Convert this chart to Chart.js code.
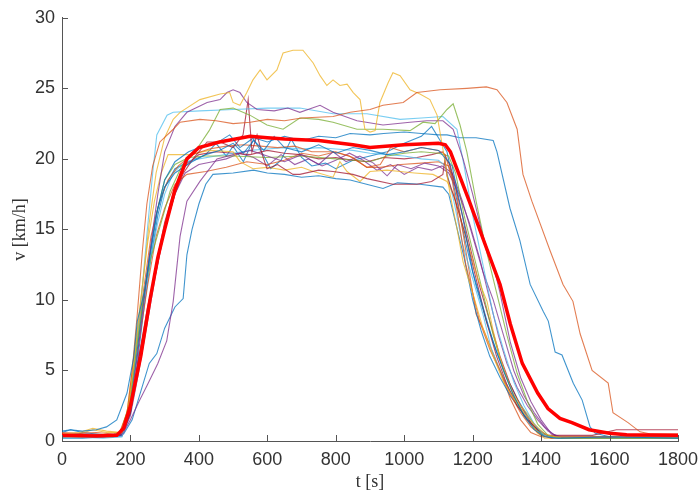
<!DOCTYPE html>
<html>
<head>
<meta charset="utf-8">
<script src="https://cdn.jsdelivr.net/npm/chart.js@4"></script>
<style>
  html, body { margin: 0; padding: 0; background: #fff; }
  #wrap { width: 700px; height: 493px; }
</style>
</head>
<body>
<div id="wrap"><canvas id="chart" width="700" height="493"></canvas></div>
<script>
// t [s], v [km/h] for each ride
const run01 = [[0,0.7],[25,0.8],[60,0.7],[100,0.8],[130,1.0],[160,1.5],[190,3.4],[210,6],[220,8.5],[240,10.5],[260,13.5],[280,16.5],[300,18],[330,19],[380,19.8],[420,20.3],[460,20.6],[500,21.1],[530,20.4],[560,21.3],[590,20.6],[620,21.6],[650,20.8],[700,20.5],[750,21],[800,20.4],[850,20.8],[900,20.6],[950,20.3],[1000,20.5],[1050,20.8],[1100,20.6],[1140,19.5],[1170,16],[1200,12],[1230,9.5],[1260,7],[1290,5],[1320,3.2],[1350,1.8],[1380,0.8],[1410,0.3],[1450,0.2],[1600,0.3],[1800,0.2]];
const run02 = [[0,0.3],[60,0.3],[120,0.35],[165,0.4],[190,2],[205,5],[220,9],[235,13.5],[248,16.8],[265,19.5],[286,21.2],[325,22.1],[345,22.6],[403,22.8],[450,22.7],[500,22.5],[550,22.6],[600,22.8],[650,22.7],[700,22.9],[792,23.0],[842,23.3],[900,23.5],[938,23.8],[997,24],[1037,24.7],[1105,24.9],[1183,25.0],[1240,25.1],[1271,24.9],[1300,24],[1330,22.1],[1347,18.9],[1373,17],[1426,13.5],[1464,11.1],[1493,9.9],[1514,7.6],[1549,5.0],[1596,4.1],[1610,2.0],[1654,1.3],[1689,0.65],[1720,0.5],[1800,0.5]];
const run03 = [[0,0.5],[50,0.6],[90,0.9],[130,0.7],[175,0.6],[195,2.5],[215,6.5],[235,11],[255,15.5],[275,19],[300,21.5],[325,22.8],[345,23.3],[403,24.2],[462,24.6],[490,24.7],[500,24.0],[520,23.8],[540,24.7],[558,25.6],[579,26.3],[599,25.6],[628,26.3],[646,27.5],[675,27.7],[704,27.7],[734,26.8],[754,25.9],[774,25.2],[792,25.6],[812,25.2],[833,25.3],[851,24.7],[871,24.2],[885,22.1],[900,21.9],[915,22],[929,24],[953,25.4],[967,26.1],[988,25.9],[1017,24.9],[1046,24.6],[1075,24.2],[1096,23.1],[1113,20.7],[1134,17.5],[1154,15.1],[1172,12.7],[1200,10.5],[1230,8],[1260,6],[1290,4.2],[1320,3],[1350,2],[1380,1.2],[1410,0.5],[1440,0.3],[1800,0.3]];
const run04 = [[0,0.4],[60,0.35],[120,0.4],[175,0.5],[200,2.5],[220,6],[240,10],[260,14],[280,17.5],[300,20.5],[330,22.3],[365,23.3],[424,24],[462,24.2],[482,24.7],[500,24.9],[520,24.7],[540,24],[570,23.5],[620,23.4],[660,23.6],[695,23.3],[754,23.8],[792,23.3],[862,22.7],[938,22.4],[1017,22.6],[1066,22.7],[1113,22.7],[1143,22.1],[1172,20],[1200,17.5],[1230,14.5],[1260,12.5],[1280,10.5],[1310,7],[1340,4.5],[1370,2.8],[1400,1.5],[1430,0.5],[1460,0.3],[1800,0.3]];
const run05 = [[0,0.3],[80,0.3],[150,0.3],[180,0.8],[200,3],[220,7],[240,10.5],[260,13],[290,15.5],[316,17.7],[350,19.5],[394,20.7],[430,22],[462,23.5],[500,23.6],[549,23.1],[599,22.4],[646,22.1],[695,22.9],[750,22.8],[792,22.6],[862,22.1],[938,22.1],[1017,22.0],[1055,22.6],[1090,22.5],[1125,23.5],[1143,23.9],[1163,22.4],[1183,20.5],[1210,17],[1240,13.5],[1270,10.5],[1300,7.5],[1330,4.8],[1360,2.8],[1390,1.2],[1420,0.4],[1460,0.2],[1800,0.2]];
const run06 = [[0,0.2],[60,0.25],[120,0.2],[175,0.3],[195,2],[215,6],[235,11],[248,14.6],[265,19],[277,21.7],[307,23.1],[325,23.3],[403,23.4],[500,23.5],[600,23.6],[695,23.6],[792,23.2],[891,23.2],[988,22.8],[1050,22.9],[1113,23.0],[1154,22.1],[1175,19.5],[1200,16],[1230,12.5],[1260,9],[1290,6.5],[1320,4.2],[1350,2.5],[1380,1.2],[1410,0.4],[1440,0.2],[1800,0.2]];
const run07 = [[0,0.5],[60,0.5],[120,0.45],[175,0.5],[200,2],[225,6],[250,9.5],[275,12],[300,15],[330,17.5],[355,19],[383,20],[424,21.2],[462,21.2],[500,20.8],[529,21.7],[544,24.2],[555,20.5],[570,21.7],[585,20.3],[599,19.3],[630,19.6],[675,18.9],[695,18.9],[750,19.2],[792,19.1],[850,18.9],[891,18.6],[967,18.2],[1037,18.2],[1080,18.4],[1113,18.9],[1119,20],[1125,18.8],[1150,17],[1180,14.5],[1210,11.5],[1240,8.5],[1270,6],[1300,4],[1330,2.5],[1360,1.5],[1390,0.8],[1420,0.4],[1550,0.4],[1620,0.8],[1800,0.8]];
const run08 = [[0,0.2],[60,0.2],[120,0.3],[170,0.4],[195,2],[215,5.5],[235,9.5],[255,13],[275,16],[300,18.5],[330,19.8],[370,20.5],[410,20.9],[450,21.1],[490,21.7],[520,20.8],[560,21.5],[600,21.2],[650,21.6],[700,21.3],[750,21.6],[800,21.5],[842,21.8],[900,21.7],[940,21.8],[1000,21.9],[1050,21.8],[1100,21.7],[1125,21.7],[1163,21.5],[1210,21.5],[1260,21.3],[1271,20.5],[1309,16.5],[1338,14.2],[1368,11.1],[1406,9.2],[1421,8.5],[1441,6.3],[1461,6.1],[1494,4.1],[1520,2.9],[1543,1.0],[1558,0.55],[1600,0.3],[1800,0.3]];
const run09 = [[0,0.6],[50,0.55],[100,0.6],[150,0.5],[180,0.7],[200,2.8],[220,7.5],[240,11],[260,14.5],[285,17],[310,18.5],[340,19.5],[380,20.3],[430,20.7],[480,20.9],[530,21.0],[580,20.9],[630,20.8],[680,20.9],[730,20.5],[792,20.5],[840,20.2],[891,19.4],[930,19.6],[960,20.8],[1000,20.5],[1050,20.8],[1100,20.6],[1120,20.3],[1140,18.5],[1160,15.5],[1180,12.5],[1200,10.5],[1220,8.5],[1250,6.5],[1280,5],[1310,3.3],[1340,2],[1370,1],[1400,0.4],[1430,0.2],[1800,0.2]];
const run10 = [[0,0.4],[50,0.5],[90,0.8],[130,0.6],[170,0.6],[190,2],[210,6],[230,10],[250,14],[270,17],[290,19],[310,20.3],[374,20.3],[430,20.6],[500,20.5],[520,19.8],[558,19.3],[600,19.4],[650,19.2],[700,19.4],[734,19.1],[792,18.7],[812,19.8],[833,19.1],[871,18.4],[900,19.1],[950,19.2],[988,19.1],[1030,19.0],[1084,18.9],[1125,18.4],[1143,17.5],[1170,15.3],[1192,13.5],[1215,11.5],[1242,9.9],[1260,7.8],[1280,5.9],[1300,4.5],[1318,3.4],[1340,2.5],[1368,1.7],[1388,0.6],[1410,0.2],[1800,0.2]];
const run11 = [[0,0.3],[60,0.35],[120,0.3],[175,0.4],[200,1.5],[225,2.8],[250,4],[280,5.5],[306,7.1],[325,9.9],[345,14.5],[365,17],[403,18.4],[453,20],[500,20.3],[550,20.6],[600,20.2],[650,19.8],[700,20.3],[750,19.6],[792,20.5],[830,19.8],[870,20.2],[910,19.7],[950,18.8],[980,19.6],[1020,19.3],[1060,19.7],[1100,19.5],[1130,19],[1160,17.5],[1190,15.5],[1220,13],[1250,10],[1275,7.5],[1300,5.5],[1330,3.8],[1360,2.5],[1390,1.5],[1420,0.7],[1450,0.3],[1800,0.3]];
const run12 = [[0,0.4],[60,0.4],[120,0.35],[170,0.5],[195,2.5],[215,6],[235,9.5],[255,13],[275,16],[300,18.5],[330,19.6],[370,20.1],[420,20.2],[500,20.2],[600,20.1],[700,20.2],[800,20.0],[850,19.9],[900,19.8],[950,20.2],[1000,20.4],[1050,20.5],[1100,20.4],[1130,20.2],[1150,19],[1175,16],[1200,13.5],[1230,10.5],[1260,7.5],[1290,5],[1320,3.2],[1350,1.8],[1380,0.9],[1410,0.4],[1440,0.2],[1800,0.2]];
const run13 = [[0,0.3],[60,0.3],[120,0.25],[175,0.3],[200,2.5],[220,6.5],[240,10],[260,13],[280,15.5],[300,17.5],[325,19],[360,19.8],[400,20.0],[450,20.2],[500,20.4],[550,20.6],[600,20.7],[650,20.8],[700,20.7],[750,20.8],[800,20.7],[850,20.6],[900,20.4],[950,20.3],[1000,20.2],[1050,20.0],[1100,19.9],[1120,19.5],[1145,17],[1170,14],[1200,11.5],[1230,9],[1255,6.5],[1280,5],[1310,3.5],[1340,2.3],[1370,1.2],[1400,0.5],[1430,0.2],[1800,0.2]];
const run14 = [[0,0.3],[60,0.35],[120,0.3],[175,0.4],[200,2],[225,6],[250,9],[275,12.5],[300,15.5],[330,18],[360,19.5],[400,20.3],[450,20.5],[500,20.4],[550,20.3],[600,20.6],[650,20.4],[695,20.3],[750,20.0],[800,20.1],[850,19.9],[891,19.8],[940,20.1],[1000,20],[1037,20.1],[1080,20.3],[1113,20.5],[1135,19.5],[1160,17],[1190,14],[1220,11],[1250,8.5],[1280,6],[1310,4],[1340,2.5],[1370,1.3],[1400,0.5],[1430,0.3],[1800,0.3]];
const run15 = [[0,0.6],[25,0.8],[60,0.6],[100,0.5],[150,0.4],[180,0.5],[205,1.5],[230,3.5],[255,5.5],[277,6.2],[300,8],[330,9.5],[354,10.1],[365,13.2],[380,15],[400,16.8],[420,18.2],[441,18.9],[500,19.0],[560,19.2],[600,19.0],[650,18.9],[700,18.7],[750,18.8],[800,18.6],[842,18.5],[890,18.2],[938,17.9],[980,18.3],[1046,18.2],[1113,18.0],[1130,17.5],[1150,15.5],[1175,13.0],[1200,10.0],[1225,7.8],[1250,6.0],[1280,4.5],[1310,3.2],[1340,2.2],[1370,1.3],[1400,0.6],[1430,0.2],[1800,0.2]];
const run16 = [[0,0.35],[60,0.3],[120,0.35],[175,0.4],[200,2.5],[225,7],[250,11],[275,14.5],[300,16.5],[330,18.2],[365,18.9],[420,19.1],[480,19.4],[540,19.8],[600,19.6],[650,19.9],[700,20.4],[750,20.2],[800,20.5],[850,20.1],[891,19.4],[930,19.4],[990,19.6],[1050,19.7],[1100,19.8],[1130,19.5],[1150,18],[1170,15],[1190,12],[1210,9],[1230,8],[1255,6.5],[1280,5],[1310,3],[1340,1.5],[1370,0.6],[1400,0.3],[1800,0.35]];
const run17 = [[0,0.35],[60,0.4],[120,0.35],[175,0.4],[200,2],[220,5.5],[240,9.5],[260,13],[280,16],[300,18],[330,19.3],[370,19.8],[420,20.3],[450,21.1],[480,20.2],[500,20.9],[530,19.8],[560,21.4],[590,20.2],[610,19.3],[640,19.9],[670,21.4],[700,20.1],[730,19.5],[770,19.7],[800,19.3],[850,19.9],[900,20.2],[950,20.5],[1000,21.1],[1050,21.6],[1080,22.3],[1100,21.5],[1125,20.5],[1150,17.5],[1180,14],[1210,11],[1240,8.5],[1270,6.3],[1300,4.5],[1330,3],[1360,1.8],[1390,0.9],[1420,0.3],[1800,0.2]];
const run18 = [[0,0.3],[60,0.3],[120,0.3],[175,0.35],[200,1.8],[225,5],[250,8.5],[275,12],[300,15],[330,17.5],[360,19],[400,19.6],[440,19.8],[480,20.0],[520,20.4],[560,20.1],[600,19.5],[640,20.3],[680,19.6],[720,20.0],[760,19.5],[800,19.9],[840,20.4],[880,19.9],[920,19.2],[960,19.6],[1000,18.9],[1040,19.4],[1080,19.2],[1110,19.5],[1140,19.0],[1170,17],[1200,14.5],[1230,12],[1260,10],[1290,7.5],[1320,5],[1350,3.2],[1380,2],[1410,1.0],[1440,0.4],[1470,0.2],[1800,0.25]];
const meanRun = [[0,0.4],[100,0.35],[160,0.4],[180,0.9],[200,2.5],[230,6],[257,10],[280,13],[300,15],[330,17.8],[365,20],[400,20.8],[460,21.2],[550,21.6],[600,21.5],[650,21.4],[750,21.3],[850,21.0],[900,20.8],[1000,21.0],[1100,21.1],[1120,21.0],[1135,20.5],[1190,17],[1240,13.7],[1280,11.1],[1310,8.3],[1345,5.5],[1390,3.4],[1420,2.3],[1455,1.6],[1490,1.3],[1540,0.8],[1600,0.55],[1650,0.45],[1800,0.4]];

const runs = [run01, run02, run03, run04, run05, run06, run07, run08, run09,
  run10, run11, run12, run13, run14, run15, run16, run17, run18];

const xTicks = [0, 200, 400, 600, 800, 1000, 1200, 1400, 1600, 1800];
const yTicks = [0, 5, 10, 15, 20, 25, 30];

const palette = [
  "rgba(0,114,189,0.75)", "rgba(217,83,25,0.75)", "rgba(237,177,32,0.75)",
  "rgba(126,47,142,0.75)", "rgba(119,172,48,0.75)", "rgba(77,190,238,0.75)",
  "rgba(162,20,47,0.75)", "rgba(0,114,189,0.75)", "rgba(217,83,25,0.75)",
  "rgba(237,177,32,0.75)", "rgba(126,47,142,0.75)", "rgba(119,172,48,0.75)",
  "rgba(77,190,238,0.75)", "rgba(162,20,47,0.75)", "rgba(0,114,189,0.75)",
  "rgba(217,83,25,0.75)", "rgba(0,114,189,0.75)", "rgba(126,47,142,0.75)",
];

const toPoints = (run) => run.map(([t, v]) => ({ x: t, y: v }));

const datasets = runs.map((run, i) => ({
  data: toPoints(run),
  borderColor: palette[i],
  borderWidth: 1.1,
  pointRadius: 0,
  order: 2,
}));
datasets.push({
  data: toPoints(meanRun),
  borderColor: "rgb(255,0,0)",
  borderWidth: 3.5,
  pointRadius: 0,
  order: 0,
});

// MATLAB style: ticks pointing into the plot
const innerTicks = {
  id: "innerTicks",
  afterDatasetsDraw(chart) {
    const { ctx, chartArea, scales } = chart;
    ctx.save();
    ctx.strokeStyle = "#555";
    ctx.lineWidth = 1;
    ctx.beginPath();
    scales.x.ticks.forEach((t) => {
      const px = Math.round(scales.x.getPixelForValue(t.value)) + 0.5;
      ctx.moveTo(px, chartArea.bottom);
      ctx.lineTo(px, chartArea.bottom - 6);
    });
    scales.y.ticks.forEach((t) => {
      const py = Math.round(scales.y.getPixelForValue(t.value)) + 0.5;
      ctx.moveTo(chartArea.left, py);
      ctx.lineTo(chartArea.left + 6, py);
    });
    ctx.stroke();
    ctx.restore();
  },
};

const tickFont = { family: "'Liberation Sans', Arial, sans-serif", size: 18 };
const titleFont = { family: "'Liberation Serif', 'DejaVu Serif', serif", size: 18 };
const plain = (v) => String(v);

new Chart(document.getElementById("chart"), {
  type: "line",
  data: { datasets },
  plugins: [innerTicks],
  options: {
    responsive: false,
    animation: false,
    layout: { padding: { top: 15, right: 0, left: 0, bottom: 0 } },
    plugins: { legend: { display: false }, tooltip: { enabled: false } },
    elements: { line: { tension: 0 } },
    scales: {
      x: {
        type: "linear",
        min: 0,
        max: 1800,
        afterBuildTicks: (s) => { s.ticks = xTicks.map((v) => ({ value: v })); },
        afterFit: (s) => { s.height = 52; s.paddingRight = 22; s.paddingLeft = 0; },
        grid: { display: false, drawTicks: false },
        border: { display: true, color: "#555", width: 1 },
        ticks: { font: tickFont, color: "#333", padding: 8, maxRotation: 0, callback: plain },
        title: { display: true, text: "t [s]", font: titleFont, color: "#333", padding: { top: 0, bottom: 0 } },
      },
      y: {
        type: "linear",
        min: 0,
        max: 30,
        afterBuildTicks: (s) => { s.ticks = yTicks.map((v) => ({ value: v })); },
        afterFit: (s) => { s.width = 62; },
        grid: { display: false, drawTicks: false },
        border: { display: true, color: "#555", width: 1 },
        ticks: { font: tickFont, color: "#333", padding: 7, callback: plain },
        title: { display: true, text: "v [km/h]", font: titleFont, color: "#333", padding: { top: 9, bottom: 0 } },
      },
    },
  },
});
</script>
</body>
</html>
